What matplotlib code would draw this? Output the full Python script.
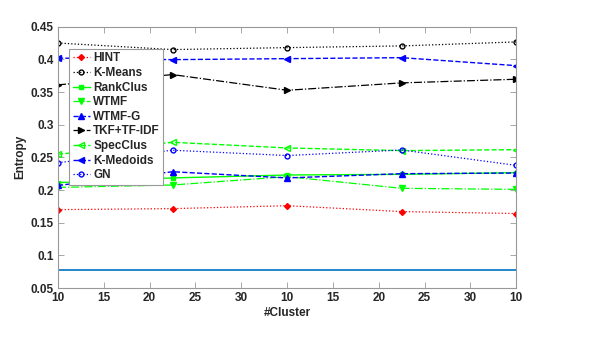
#Entropy vs number of clusters

import numpy as np
import matplotlib
matplotlib.use('Agg')
import matplotlib.pyplot as plt

#Data
x = [0, 2.5, 5, 7.5, 10]
tick_labels = ['10', '15', '20', '25', '30', '10', '15', '20', '25', '30', '10']
hint = [0.170, 0.1715, 0.176, 0.167, 0.164]
kmeans = [0.425, 0.415, 0.418, 0.4206, 0.4267]
rankclus = [0.2113, 0.2185, 0.223, 0.224, 0.2266]
wtmf = [0.204, 0.2077, 0.2205, 0.2026, 0.201]
wtmf_g = [0.207, 0.228, 0.2185, 0.225, 0.226]
tkf = [0.361, 0.3767, 0.3527, 0.364, 0.3696]
specclus = [0.2547, 0.2731, 0.2644, 0.2603, 0.2618]
kmedoids = [0.402, 0.3996, 0.4011, 0.4026, 0.3904]
gn = [0.2419, 0.2609, 0.2528, 0.2613, 0.2377]
baseline = 0.0776

plt.rcParams['font.family'] = ['Liberation Sans', 'DejaVu Sans']
plt.rcParams['font.weight'] = 'bold'
txt = '#262626'

fig = plt.figure(figsize=(5.91, 3.46), dpi=100)
ax = fig.add_axes([0.0981, 0.1676, 0.7755, 0.7552])

ax.plot(x, hint, color='red', linestyle=':', marker='D', markersize=3, lw=0.9, label='HINT')
ax.plot(x, kmeans, color='black', linestyle=':', marker='o', markersize=3.5, mfc='none', lw=0.9, label='K-Means')
ax.plot(x, rankclus, color='#00ff00', linestyle='-', marker='s', markersize=3.5, lw=1, label='RankClus')
ax.plot(x, wtmf, color='#00ff00', linestyle='-.', marker='v', markersize=4, lw=0.9, label='WTMF')
ax.plot(x, wtmf_g, color='blue', linestyle='--', marker='^', markersize=4, lw=1, label='WTMF-G')
ax.plot(x, tkf, color='black', linestyle='-.', marker='>', markersize=4, lw=0.9, label='TKF+TF-IDF')
ax.plot(x, specclus, color='#00ff00', linestyle='--', marker='<', markersize=4, mfc='none', lw=1, label='SpecClus')
ax.plot(x, kmedoids, color='blue', linestyle='--', marker='<', markersize=4, lw=1, label='K-Medoids')
ax.plot(x, gn, color='blue', linestyle=':', marker='o', markersize=3.5, mfc='none', lw=0.9, label='GN')
ax.axhline(baseline, color='#0072bd', lw=1.2)

ax.set_xlim(0, 10)
ax.set_ylim(0.05, 0.45)
ax.set_xticks(np.arange(11))
ax.set_xticklabels(tick_labels)
ax.set_yticks(np.arange(0.05, 0.451, 0.05))
ax.set_yticklabels(['0.05', '0.1', '0.15', '0.2', '0.25', '0.3', '0.35', '0.4', '0.45'])
ax.tick_params(direction='in', top=True, right=True, length=4, width=0.6,
               color='#999999', labelsize=8.5, labelcolor=txt, pad=3)
for s in ax.spines.values():
    s.set_color('#999999')
    s.set_linewidth(0.8)

ax.set_xlabel('#Cluster', fontsize=8.5, fontweight='bold', color=txt, labelpad=2)
ax.set_ylabel('Entropy', fontsize=8.5, fontweight='bold', color=txt, labelpad=3)

leg = ax.legend(loc='upper left', bbox_to_anchor=(0.024, 0.915), borderaxespad=0,
                prop={'size': 8.5, 'weight': 'bold'}, handlelength=1.5, handletextpad=0.25,
                labelspacing=0.22, fancybox=False, framealpha=1, edgecolor='#999999', borderpad=0.3)
for t in leg.get_texts():
    t.set_color(txt)
leg.get_frame().set_linewidth(0.8)

plt.savefig('out.png', dpi=100)
